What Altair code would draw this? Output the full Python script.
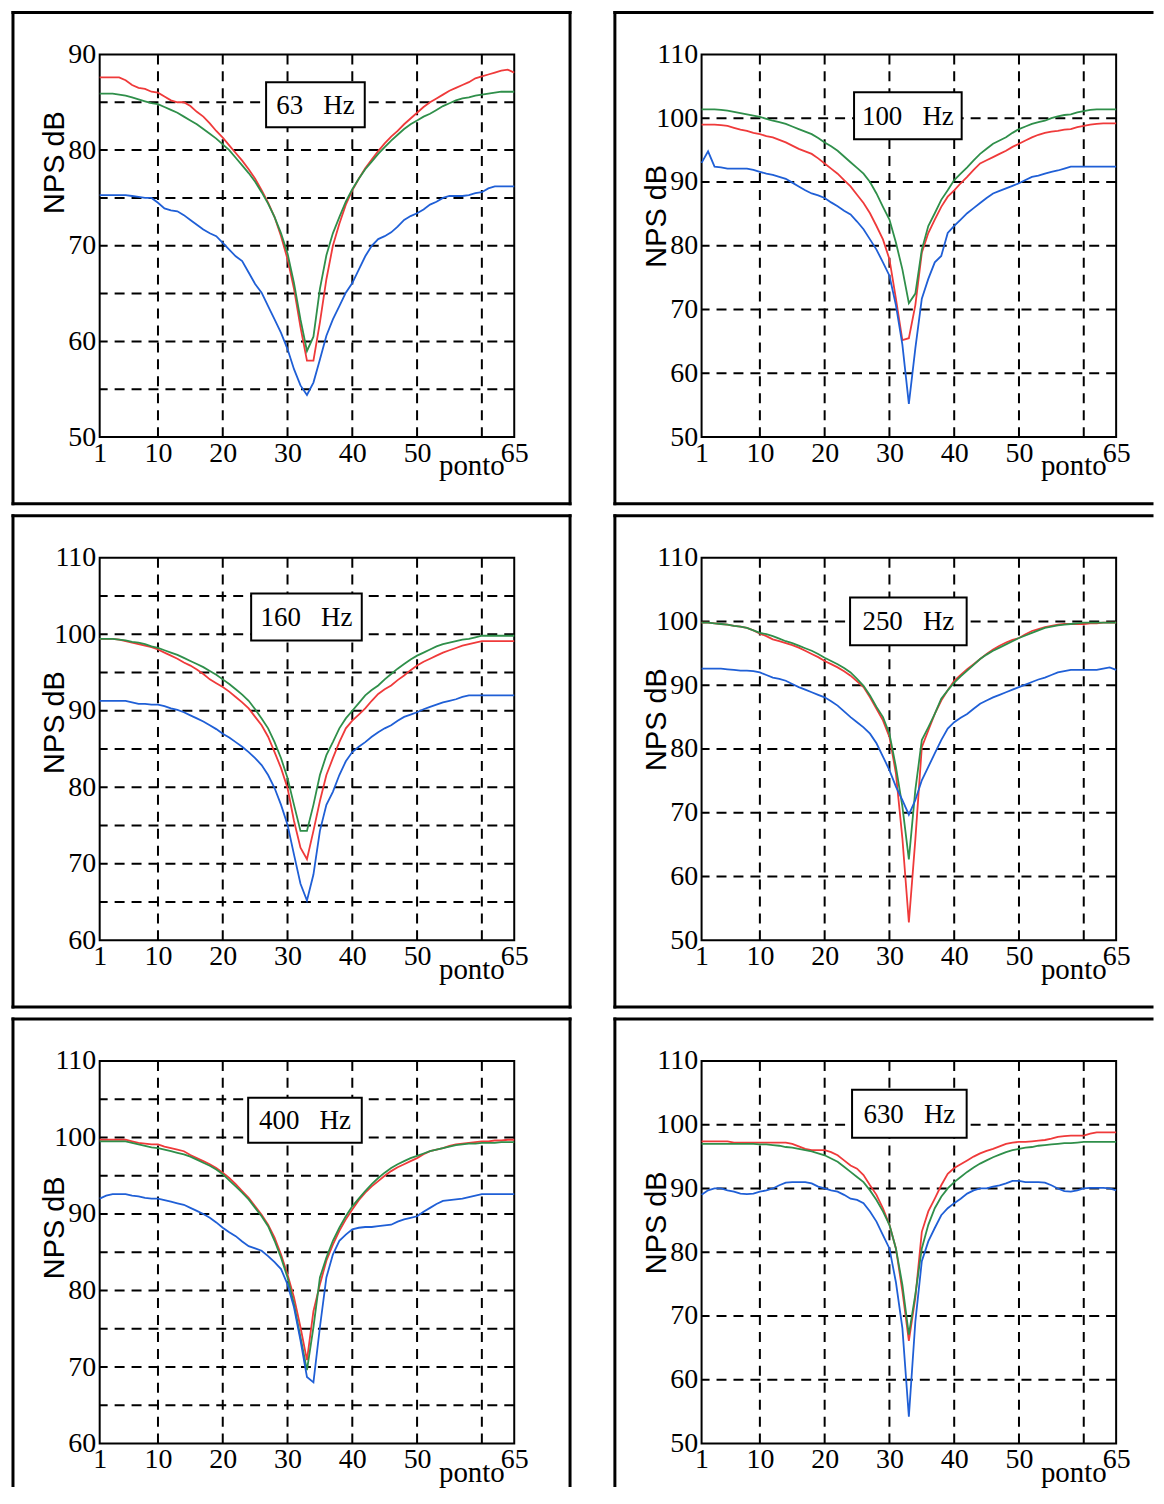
import altair as alt
import pandas as pd

# ---------------- data ----------------
ponto = list(range(1, 66))
x_labels = [1, 10, 20, 30, 40, 50, 65]
x_grid = [10, 20, 30, 40, 50, 60]
freq_labels = ["63 Hz", "100 Hz", "160 Hz", "250 Hz", "400 Hz", "630 Hz"]
series = ["vermelho", "verde", "azul"]

red_63 = [87.6, 87.6, 87.6, 87.6, 87.3, 86.8, 86.5, 86.4, 86.1, 86.0,
          85.6, 85.2, 85.0, 85.0, 84.6, 84.0, 83.5, 82.8, 82.0, 81.3,
          80.5, 79.7, 78.9, 78.0, 77.0, 75.8, 74.5, 73.0, 71.0, 68.6,
          65.5, 61.5, 58.0, 58.0, 62.0, 66.5, 70.0, 72.3, 74.3, 75.8,
          77.0, 78.1, 79.0, 79.9, 80.7, 81.4, 82.0, 82.7, 83.3, 83.9,
          84.5, 85.0, 85.4, 85.8, 86.2, 86.5, 86.8, 87.1, 87.5, 87.7,
          87.9, 88.1, 88.3, 88.4, 88.1]
green_63 = [85.9, 85.9, 85.9, 85.8, 85.7, 85.5, 85.3, 85.1, 84.9, 84.8,
            84.5, 84.2, 83.9, 83.5, 83.1, 82.7, 82.2, 81.7, 81.2, 80.6,
            80.0, 79.2, 78.4, 77.6, 76.7, 75.6, 74.4, 73.0, 71.3, 69.2,
            66.1, 62.3, 59.0, 60.5, 65.5, 69.0, 71.3, 73.0, 74.6, 75.9,
            77.0, 78.0, 78.8, 79.6, 80.3, 81.0, 81.6, 82.2, 82.7, 83.1,
            83.5, 83.8, 84.2, 84.6, 84.9, 85.2, 85.4, 85.5, 85.7, 85.8,
            85.9, 86.0, 86.1, 86.1, 86.1]
blue_63 = [75.3, 75.3, 75.3, 75.3, 75.3, 75.2, 75.1, 75.0, 75.0, 74.5,
           73.9, 73.7, 73.6, 73.2, 72.7, 72.2, 71.7, 71.3, 71.0, 70.3,
           69.6, 68.9, 68.4, 67.2, 66.0, 65.1, 63.7, 62.3, 60.9, 59.2,
           57.1, 55.4, 54.4, 55.7, 58.1, 60.6, 62.3, 63.7, 65.1, 66.1,
           67.5, 68.9, 70.0, 70.7, 71.0, 71.4, 72.0, 72.7, 73.1, 73.4,
           73.8, 74.3, 74.6, 75.0, 75.2, 75.2, 75.2, 75.3, 75.5, 75.6,
           76.0, 76.2, 76.2, 76.2, 76.2]

red_100 = [99.0, 99.0, 99.0, 98.9, 98.8, 98.5, 98.2, 98.0, 97.7, 97.5,
           97.2, 97.0, 96.6, 96.2, 95.7, 95.2, 94.8, 94.4, 93.7, 92.9,
           92.1, 91.3, 90.3, 89.3, 88.0, 86.7, 85.1, 83.1, 81.0, 77.9,
           71.7, 65.2, 65.5, 70.7, 78.9, 82.0, 84.1, 86.1, 87.7, 88.7,
           89.8, 90.8, 91.9, 92.9, 93.4, 93.9, 94.4, 94.9, 95.5, 96.0,
           96.5, 97.0, 97.4, 97.7, 97.9, 98.0, 98.2, 98.3, 98.6, 98.8,
           99.0, 99.1, 99.2, 99.2, 99.2]
green_100 = [101.4, 101.4, 101.4, 101.3, 101.2, 101.0, 100.8, 100.6, 100.4, 100.2,
             99.9, 99.6, 99.4, 99.1, 98.7, 98.3, 97.9, 97.5, 96.9, 96.2,
             95.6, 94.9, 94.0, 93.1, 92.2, 91.3, 90.0, 88.2, 86.1, 84.1,
             80.5, 76.3, 71.0, 72.5, 79.4, 83.1, 85.1, 87.2, 88.7, 90.3,
             91.3, 92.3, 93.4, 94.4, 95.2, 96.0, 96.5, 97.0, 97.7, 98.3,
             98.7, 99.1, 99.4, 99.6, 100.0, 100.3, 100.5, 100.6, 100.9, 101.1,
             101.3, 101.4, 101.4, 101.4, 101.4]
blue_100 = [93.0, 94.8, 92.4, 92.3, 92.1, 92.1, 92.1, 92.1, 91.9, 91.6,
            91.3, 91.1, 90.8, 90.5, 89.9, 89.3, 88.7, 88.2, 87.9, 87.5,
            86.8, 86.2, 85.5, 84.9, 83.8, 82.6, 81.0, 79.4, 77.4, 75.3,
            70.7, 64.5, 55.2, 63.9, 71.7, 74.8, 77.4, 78.4, 82.0, 83.1,
            84.1, 85.1, 85.9, 86.7, 87.5, 88.2, 88.6, 89.0, 89.4, 89.8,
            90.3, 90.8, 91.0, 91.3, 91.6, 91.8, 92.1, 92.4, 92.4, 92.4,
            92.4, 92.4, 92.4, 92.4, 92.4]

red_160 = [99.4, 99.4, 99.4, 99.3, 99.1, 98.9, 98.7, 98.5, 98.3, 98.0,
           97.6, 97.2, 96.8, 96.3, 95.9, 95.4, 94.8, 94.1, 93.6, 93.1,
           92.5, 91.8, 91.1, 90.3, 89.2, 88.1, 86.6, 84.6, 82.5, 79.9,
           75.6, 72.1, 70.6, 74.3, 78.2, 81.6, 83.8, 85.9, 87.7, 88.7,
           89.5, 90.3, 91.3, 92.2, 92.8, 93.3, 94.0, 94.6, 95.3, 95.9,
           96.4, 96.8, 97.2, 97.6, 97.9, 98.2, 98.5, 98.7, 98.9, 99.1,
           99.1, 99.1, 99.1, 99.1, 99.1]
green_160 = [99.4, 99.4, 99.4, 99.3, 99.2, 99.0, 98.9, 98.7, 98.4, 98.2,
             97.9, 97.6, 97.3, 96.9, 96.5, 96.1, 95.7, 95.2, 94.7, 94.1,
             93.5, 92.8, 92.1, 91.3, 90.2, 89.0, 87.7, 85.9, 83.8, 81.2,
             77.7, 74.3, 74.3, 77.7, 81.6, 84.2, 85.9, 87.7, 89.0, 90.0,
             91.0, 92.0, 92.7, 93.3, 94.1, 94.8, 95.5, 96.1, 96.7, 97.2,
             97.6, 98.0, 98.4, 98.7, 98.9, 99.1, 99.3, 99.4, 99.6, 99.8,
             99.8, 99.8, 99.8, 99.8, 99.8]
blue_160 = [91.3, 91.3, 91.3, 91.3, 91.3, 91.1, 90.9, 90.9, 90.8, 90.8,
            90.6, 90.3, 90.1, 89.8, 89.4, 89.0, 88.6, 88.1, 87.6, 87.0,
            86.5, 85.9, 85.3, 84.6, 83.8, 82.9, 81.6, 79.9, 77.7, 75.1,
            71.2, 67.4, 65.2, 68.6, 74.3, 77.7, 79.4, 81.6, 83.4, 84.6,
            85.3, 85.9, 86.6, 87.2, 87.7, 88.1, 88.7, 89.2, 89.5, 89.8,
            90.2, 90.5, 90.8, 91.1, 91.3, 91.5, 91.8, 92.0, 92.0, 92.0,
            92.0, 92.0, 92.0, 92.0, 92.0]

red_250 = [99.8, 99.8, 99.7, 99.6, 99.5, 99.3, 99.2, 99.0, 98.6, 98.1,
           97.7, 97.2, 96.9, 96.6, 96.3, 95.9, 95.4, 94.9, 94.4, 93.8,
           93.3, 92.8, 92.2, 91.5, 90.6, 89.7, 88.1, 86.3, 84.5, 81.9,
           76.2, 66.0, 52.8, 65.8, 80.3, 82.9, 85.5, 87.6, 89.2, 90.7,
           91.6, 92.5, 93.3, 94.1, 94.9, 95.6, 96.2, 96.7, 97.1, 97.4,
           98.0, 98.5, 98.8, 99.1, 99.3, 99.5, 99.6, 99.6, 99.6, 99.6,
           99.7, 99.7, 99.8, 99.8, 99.8]
green_250 = [99.8, 99.8, 99.7, 99.6, 99.5, 99.3, 99.2, 99.0, 98.6, 98.2,
             98.0, 97.7, 97.3, 96.9, 96.6, 96.2, 95.8, 95.4, 94.9, 94.3,
             93.8, 93.3, 92.7, 92.0, 91.0, 89.9, 88.4, 86.6, 85.0, 82.4,
             77.2, 71.0, 62.7, 73.6, 81.4, 83.4, 85.5, 87.9, 89.2, 90.4,
             91.4, 92.3, 93.2, 94.1, 94.8, 95.4, 95.9, 96.4, 96.9, 97.4,
             97.8, 98.2, 98.6, 99.0, 99.2, 99.4, 99.5, 99.6, 99.7, 99.8,
             99.8, 99.8, 99.8, 99.8, 99.8]
blue_250 = [92.6, 92.6, 92.6, 92.6, 92.5, 92.4, 92.3, 92.3, 92.2, 92.0,
            91.6, 91.2, 91.0, 90.7, 90.2, 89.7, 89.3, 88.9, 88.5, 88.1,
            87.5, 86.8, 85.9, 85.0, 84.2, 83.4, 82.4, 80.9, 78.8, 76.7,
            74.1, 72.0, 69.7, 72.0, 75.1, 77.2, 79.3, 81.4, 83.2, 84.2,
            84.9, 85.5, 86.3, 87.1, 87.6, 88.1, 88.5, 88.9, 89.3, 89.7,
            90.1, 90.5, 90.9, 91.2, 91.6, 92.0, 92.2, 92.4, 92.4, 92.4,
            92.4, 92.4, 92.6, 92.8, 92.4]

red_400 = [99.7, 99.7, 99.7, 99.7, 99.7, 99.5, 99.3, 99.2, 99.1, 99.1,
           98.8, 98.6, 98.4, 98.2, 97.7, 97.3, 96.9, 96.5, 96.0, 95.4,
           94.7, 93.9, 93.0, 92.1, 91.0, 89.9, 88.6, 86.9, 84.7, 82.1,
           79.1, 75.2, 70.9, 77.3, 80.8, 83.9, 86.0, 87.8, 89.3, 90.6,
           91.8, 92.8, 93.6, 94.3, 95.0, 95.6, 96.1, 96.5, 96.9, 97.3,
           97.8, 98.2, 98.4, 98.6, 98.9, 99.1, 99.2, 99.3, 99.4, 99.5,
           99.5, 99.6, 99.6, 99.7, 99.7]
green_400 = [99.5, 99.5, 99.5, 99.5, 99.5, 99.3, 99.1, 98.9, 98.7, 98.6,
             98.4, 98.2, 98.0, 97.8, 97.5, 97.1, 96.7, 96.3, 95.8, 95.2,
             94.4, 93.6, 92.8, 91.9, 90.8, 89.7, 88.4, 86.5, 84.3, 81.7,
             78.2, 73.9, 69.6, 75.2, 81.7, 84.3, 86.5, 88.2, 89.7, 91.0,
             92.0, 93.0, 93.9, 94.7, 95.4, 96.0, 96.5, 96.9, 97.3, 97.6,
             97.9, 98.2, 98.4, 98.6, 98.8, 99.0, 99.1, 99.2, 99.2, 99.3,
             99.3, 99.3, 99.4, 99.4, 99.4]
blue_400 = [92.0, 92.4, 92.6, 92.6, 92.6, 92.4, 92.3, 92.1, 92.0, 92.0,
            91.8, 91.6, 91.4, 91.2, 90.8, 90.4, 90.0, 89.5, 88.9, 88.2,
            87.6, 87.1, 86.4, 85.8, 85.5, 85.2, 84.5, 83.7, 82.8, 80.8,
            77.8, 73.5, 68.7, 68.0, 75.2, 81.7, 84.7, 86.5, 87.3, 88.0,
            88.2, 88.3, 88.3, 88.4, 88.5, 88.6, 89.0, 89.3, 89.5, 89.7,
            90.3, 90.8, 91.3, 91.7, 91.8, 91.9, 92.0, 92.2, 92.4, 92.6,
            92.6, 92.6, 92.6, 92.6, 92.6]

red_630 = [97.4, 97.4, 97.4, 97.4, 97.4, 97.2, 97.2, 97.2, 97.2, 97.2,
           97.2, 97.2, 97.2, 97.2, 97.0, 96.6, 96.2, 96.0, 96.0, 96.0,
           95.7, 95.2, 94.4, 93.6, 93.1, 92.1, 90.5, 89.0, 86.9, 84.3,
           80.6, 73.9, 66.1, 72.9, 83.2, 86.4, 88.4, 90.5, 92.3, 93.2,
           93.8, 94.4, 95.0, 95.5, 95.9, 96.2, 96.6, 97.0, 97.2, 97.3,
           97.3, 97.4, 97.5, 97.6, 97.8, 98.1, 98.2, 98.3, 98.3, 98.3,
           98.6, 98.8, 98.8, 98.8, 98.8]
green_630 = [97.0, 97.0, 97.0, 97.0, 97.0, 97.0, 97.0, 97.0, 97.0, 96.9,
             96.9, 96.8, 96.7, 96.5, 96.4, 96.2, 96.0, 95.8, 95.5, 95.2,
             94.7, 94.2, 93.4, 92.6, 91.8, 91.0, 89.7, 88.2, 86.4, 84.3,
             80.6, 74.9, 67.1, 73.4, 80.6, 84.3, 86.9, 88.7, 90.0, 91.0,
             91.8, 92.6, 93.3, 93.9, 94.4, 94.9, 95.3, 95.7, 96.0, 96.2,
             96.4, 96.5, 96.7, 96.8, 96.9, 97.0, 97.1, 97.1, 97.2, 97.3,
             97.3, 97.3, 97.3, 97.3, 97.3]
blue_630 = [89.0, 89.7, 90.0, 90.0, 89.7, 89.5, 89.2, 89.1, 89.2, 89.5,
            89.7, 90.0, 90.5, 90.9, 91.0, 91.0, 91.0, 90.8, 90.3, 90.0,
            89.7, 89.5, 89.0, 88.4, 88.2, 87.7, 86.4, 84.8, 82.7, 80.6,
            75.3, 68.1, 54.2, 69.1, 78.6, 81.7, 83.8, 85.8, 86.9, 87.7,
            88.4, 89.2, 89.7, 90.0, 90.0, 90.3, 90.5, 90.8, 91.2, 91.2,
            91.0, 91.0, 91.0, 90.9, 90.5, 90.0, 89.6, 89.5, 89.7, 90.0,
            90.1, 90.1, 90.1, 90.0, 89.7]

y_domain_63 = [50, 90]
y_grid_63 = [55, 60, 65, 70, 75, 80, 85]
y_labels_63 = [50, 60, 70, 80, 90]
y_domain_100 = [50, 110]
y_grid_100 = [60, 70, 80, 90, 100]
y_labels_100 = [50, 60, 70, 80, 90, 100, 110]
y_domain_160 = [60, 110]
y_grid_160 = [65, 70, 75, 80, 85, 90, 95, 100, 105]
y_labels_160 = [60, 70, 80, 90, 100, 110]
y_domain_250 = [50, 110]
y_grid_250 = [60, 70, 80, 90, 100]
y_labels_250 = [50, 60, 70, 80, 90, 100, 110]
y_domain_400 = [60, 110]
y_grid_400 = [65, 70, 75, 80, 85, 90, 95, 100, 105]
y_labels_400 = [60, 70, 80, 90, 100, 110]
y_domain_630 = [50, 110]
y_grid_630 = [60, 70, 80, 90, 100]
y_labels_630 = [50, 60, 70, 80, 90, 100, 110]

# ---------------- styling / layout ----------------
W, H = 416, 384
COLORS = ["#ef3a3a", "#2f8f4a", "#1f5fd6"]
SERIF = "Liberation Serif"
SANS = "Liberation Sans"
LBL = 28
one = pd.DataFrame({"k": [0]})

FL, FT = -87, -42          # frame left / top (relative to plot)
FR_FULL, FR_CUT = W + 56, 452
FB_FULL, FB_CUT = H + 67, 426


def seg(x1, x2, y1, y2):
    return alt.Chart(one).mark_rule(color="black", strokeWidth=3, strokeCap="square").encode(
        x=alt.value(x1), x2=alt.value(x2), y=alt.value(y1), y2=alt.value(y2))


def frame(right_col, bottom_row):
    xr = FR_CUT if right_col else FR_FULL
    yb = FB_CUT if bottom_row else FB_FULL
    parts = [seg(FL, xr, FT, FT), seg(FL, FL, FT, yb)]
    if not bottom_row:
        parts.append(seg(FL, xr, yb, yb))
    if not right_col:
        parts.append(seg(xr, xr, FT, yb))
    return parts


def panel(idx, red, green, blue, ydom, ygrid, ylabels, title_y, box):
    df = pd.DataFrame({
        "ponto": ponto * 3,
        "NPS": red + green + blue,
        "serie": [series[0]] * 65 + [series[1]] * 65 + [series[2]] * 65,
    })
    xs = alt.Scale(domain=[1, 65], nice=False, zero=False)
    ys = alt.Scale(domain=ydom, nice=False, zero=False)
    x_axis = alt.Axis(
        values=x_labels, grid=False, ticks=False, domain=False, format="d",
        labelFont=SERIF, labelFontSize=LBL, labelColor="black", labelPadding=2,
        labelFlush=False, labelOverlap=False,
        title="ponto", titleFont=SERIF, titleFontSize=29, titleFontWeight="normal",
        titleColor="black", titleX=373, titleY=38, titleAlign="center",
        titleBaseline="alphabetic")
    y_axis = alt.Axis(
        values=ylabels, grid=False, ticks=False, domain=False, format="d",
        labelFont=SERIF, labelFontSize=LBL, labelColor="black", labelPadding=4,
        labelFlush=False, labelOverlap=False,
        title="NPS dB", titleFont=SANS, titleFontSize=29, titleFontWeight="normal",
        titleColor="black", titleAngle=270, titleX=-45, titleY=title_y,
        titleAlign="center", titleBaseline="middle")

    vgrid = alt.Chart(pd.DataFrame({"g": x_grid})).mark_rule(
        color="black", strokeWidth=2, strokeDash=[10, 7]).encode(
        x=alt.X("g:Q", scale=xs, axis=x_axis))
    hgrid = alt.Chart(pd.DataFrame({"g": ygrid})).mark_rule(
        color="black", strokeWidth=2, strokeDash=[10, 7]).encode(
        y=alt.Y("g:Q", scale=ys, axis=y_axis))

    lines = alt.Chart(df).mark_line(strokeWidth=1.8).encode(
        x=alt.X("ponto:Q", scale=xs, axis=x_axis),
        y=alt.Y("NPS:Q", scale=ys, axis=y_axis),
        color=alt.Color("serie:N", scale=alt.Scale(domain=series, range=COLORS), legend=None),
    )

    x0, x1, y0, y1 = box
    rect = alt.Chart(one).mark_rect(fill="white", stroke="black", strokeWidth=2).encode(
        x=alt.value(x0), x2=alt.value(x1), y=alt.value(y0), y2=alt.value(y1))
    txt = alt.Chart(one).mark_text(font=SERIF, fontSize=27, color="black",
                                   baseline="middle", align="center").encode(
        x=alt.value((x0 + x1) / 2), y=alt.value((y0 + y1) / 2 + 1),
        text=alt.value(freq_labels[idx].replace(" ", "\u00a0\u00a0\u00a0")))

    right_col = idx % 2 == 1
    bottom_row = idx >= 4
    layers = [vgrid, hgrid, lines, rect, txt] + frame(right_col, bottom_row)
    return alt.layer(*layers).properties(width=W, height=H)


p1 = panel(0, red_63, green_63, blue_63, y_domain_63, y_grid_63, y_labels_63, 108, (167, 266, 28, 73))
p2 = panel(1, red_100, green_100, blue_100, y_domain_100, y_grid_100, y_labels_100, 162, (153, 261, 38, 85))
p3 = panel(2, red_160, green_160, blue_160, y_domain_160, y_grid_160, y_labels_160, 165, (152, 263, 36, 83))
p4 = panel(3, red_250, green_250, blue_250, y_domain_250, y_grid_250, y_labels_250, 162, (149, 266, 40, 88))
p5 = panel(4, red_400, green_400, blue_400, y_domain_400, y_grid_400, y_labels_400, 167, (149, 263, 37, 82))
p6 = panel(5, red_630, green_630, blue_630, y_domain_630, y_grid_630, y_labels_630, 162, (151, 266, 29, 77))

chart = alt.vconcat(
    alt.hconcat(p1, p2, spacing=37),
    alt.hconcat(p3, p4, spacing=37),
    alt.hconcat(p5, p6, spacing=37),
    spacing=4,
).properties(
    padding={"left": 1, "top": -2, "right": 0, "bottom": 0},
    background="white",
).configure_view(
    stroke="black", strokeWidth=2
)

chart.save("out.html", embed_options={"renderer": "svg", "actions": False})
